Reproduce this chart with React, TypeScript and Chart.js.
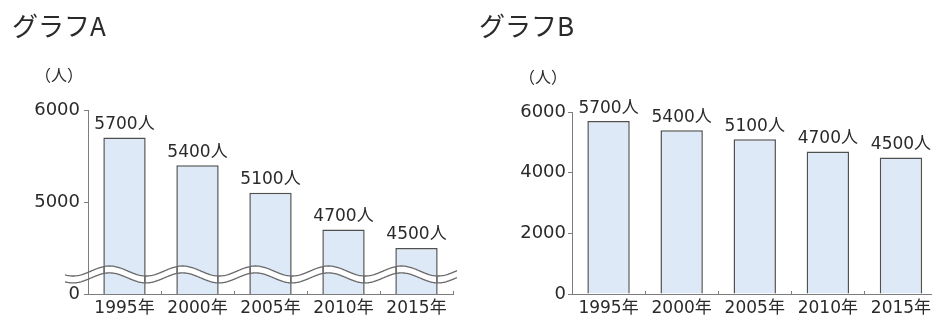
import React, { useEffect, useRef } from 'react';
import { Chart, registerables } from 'chart.js';

Chart.register(...registerables);

// ---- data ----
const categories = ['1995年', '2000年', '2005年', '2010年', '2015年'];
const populationA = [5700, 5400, 5100, 4700, 4500];
const populationB = [5700, 5400, 5100, 4700, 4500];
const unitSuffix = '人';
const titleA = 'グラフA';
const titleB = 'グラフB';
const unitLabel = '（人）';
// Graph A uses a broken axis: its 4000 bottom is labelled "0"
const tickValuesA = [4000, 5000, 6000];
const tickLabelsA = ['0', '5000', '6000'];
const axisMinA = 4000;
const axisMaxA = 6000;
const axisStepA = 1000;
const axisMinB = 0;
const axisMaxB = 6000;
const axisStepB = 2000;
const breakUpperValue = 4250;
const breakLowerValue = 4175;

// ---- styles ----
const FONT = "'DejaVu Sans', 'Noto Sans CJK JP', sans-serif";
const TITLE_FONT = "'Noto Sans CJK JP', 'DejaVu Sans', sans-serif";
const TEXT = '#2a2a2a';
const AXIS = '#7d7d7d';
const BAR_FILL = '#dde9f6';
const BAR_BORDER = '#505050';

Chart.defaults.font.family = FONT;

const labelPlugin = {
  id: 'valueLabels',
  afterDraw(chart: any) {
    const ctx = chart.ctx;
    const meta = chart.getDatasetMeta(0);
    const data = chart.data.datasets[0].data;
    ctx.save();
    ctx.fillStyle = TEXT;
    ctx.textAlign = 'center';
    ctx.textBaseline = 'middle';
    ctx.font = `17px ${FONT}`;
    meta.data.forEach((el: any, i: number) => {
      ctx.fillText(`${data[i]}${unitSuffix}`, el.x, el.y - 13);
    });
    const { left, top } = chart.chartArea;
    ctx.font = `16px ${TITLE_FONT}`;
    ctx.fillText(unitLabel, left - 29, top - 35);
    ctx.restore();
  },
};

const wavePlugin = {
  id: 'axisBreak',
  afterDatasetsDraw(chart: any) {
    const ctx = chart.ctx;
    const xs = chart.scales.x;
    const ys = chart.scales.y;
    const { left, right } = chart.chartArea;
    const period = xs.getPixelForValue(1) - xs.getPixelForValue(0);
    const crest0 = xs.getPixelForValue(0) - 15;
    const amp = 5;
    const upMid = ys.getPixelForValue(breakUpperValue);
    const loMid = ys.getPixelForValue(breakLowerValue);
    const x0 = left - 23;
    const x1 = right + 4;
    const f = (x: number, mid: number) => mid - amp * Math.cos((2 * Math.PI * (x - crest0)) / period);

    ctx.save();
    ctx.beginPath();
    for (let x = x0; x <= x1; x += 1) {
      const y = f(x, upMid);
      if (x === x0) ctx.moveTo(x, y);
      else ctx.lineTo(x, y);
    }
    for (let x = x1; x >= x0; x -= 1) ctx.lineTo(x, f(x, loMid));
    ctx.closePath();
    ctx.clip();
    ctx.fillStyle = '#ffffff';
    ctx.fillRect(x0, upMid - 20, x1 - x0, loMid - upMid + 40);
    // keep bar edges and axis visible through the band
    ctx.strokeStyle = BAR_BORDER;
    ctx.lineWidth = 1.5;
    const meta = chart.getDatasetMeta(0);
    meta.data.forEach((el: any) => {
      const w = el.width;
      [el.x - w / 2 + 0.75, el.x + w / 2 - 0.75].forEach((ex) => {
        ctx.beginPath();
        ctx.moveTo(ex, upMid - 20);
        ctx.lineTo(ex, loMid + 20);
        ctx.stroke();
      });
    });
    ctx.strokeStyle = AXIS;
    ctx.lineWidth = 1;
    ctx.beginPath();
    ctx.moveTo(left + 0.5, upMid - 20);
    ctx.lineTo(left + 0.5, loMid + 20);
    ctx.stroke();
    ctx.restore();

    ctx.save();
    ctx.strokeStyle = '#6a6a6a';
    ctx.lineWidth = 1.3;
    [upMid, loMid].forEach((mid) => {
      ctx.beginPath();
      for (let x = x0; x <= x1; x += 1) {
        const y = f(x, mid);
        if (x === x0) ctx.moveTo(x, y);
        else ctx.lineTo(x, y);
      }
      ctx.stroke();
    });
    ctx.restore();
  },
};

function makeConfig(opts: {
  title: string;
  values: number[];
  min: number;
  max: number;
  step: number;
  tickCallback: (v: any) => string;
  padLeft: number;
  padRight: number;
  titleBottom: number;
  yWidth: number;
  yPad: number;
  plugins: any[];
}): any {
  return {
    type: 'bar',
    data: {
      labels: categories,
      datasets: [
        {
          data: opts.values,
          backgroundColor: BAR_FILL,
          borderColor: BAR_BORDER,
          borderWidth: 1.5,
          barPercentage: 0.58,
          categoryPercentage: 1,
        },
      ],
    },
    plugins: opts.plugins,
    options: {
      animation: false,
      responsive: false,
      layout: { padding: { left: opts.padLeft, right: opts.padRight, top: 0, bottom: 0 } },
      plugins: {
        legend: { display: false },
        tooltip: { enabled: false },
        title: {
          display: true,
          text: opts.title,
          align: 'start',
          color: TEXT,
          font: { family: TITLE_FONT, size: 26, weight: 'normal', lineHeight: 1.2 },
          padding: { top: 11, bottom: opts.titleBottom },
        },
      },
      scales: {
        x: {
          grid: { display: true, drawOnChartArea: false, offset: true, tickLength: -3, color: AXIS },
          border: { display: true, color: AXIS, width: 1 },
          ticks: { color: TEXT, font: { size: 17 }, padding: 7, maxRotation: 0, autoSkip: false },
          afterFit: (s: any) => {
            s.height = 26;
          },
        },
        y: {
          min: opts.min,
          max: opts.max,
          grid: { display: true, drawOnChartArea: false, tickLength: 4, color: AXIS },
          border: { display: true, color: AXIS, width: 1 },
          ticks: {
            stepSize: opts.step,
            color: TEXT,
            font: { size: 18 },
            padding: opts.yPad,
            callback: opts.tickCallback,
          },
          afterFit: (s: any) => {
            s.width = opts.yWidth;
          },
        },
      },
    },
  };
}

export default function App() {
  const refA = useRef<HTMLCanvasElement>(null);
  const refB = useRef<HTMLCanvasElement>(null);

  useEffect(() => {
    const chartA = new Chart(
      refA.current as HTMLCanvasElement,
      makeConfig({
        title: titleA,
        values: populationA,
        min: axisMinA,
        max: axisMaxA,
        step: axisStepA,
        tickCallback: (v: any) => {
          const i = tickValuesA.indexOf(Number(v));
          return i >= 0 ? tickLabelsA[i] : '';
        },
        padLeft: 12,
        padRight: 13,
        titleBottom: 67.8,
        yWidth: 76,
        yPad: 4,
        plugins: [wavePlugin, labelPlugin],
      })
    );
    const chartB = new Chart(
      refB.current as HTMLCanvasElement,
      makeConfig({
        title: titleB,
        values: populationB,
        min: axisMinB,
        max: axisMaxB,
        step: axisStepB,
        tickCallback: (v: any) => String(v),
        padLeft: 13,
        padRight: 4.5,
        titleBottom: 69.8,
        yWidth: 93,
        yPad: 2,
        plugins: [labelPlugin],
      })
    );
    return () => {
      chartA.destroy();
      chartB.destroy();
    };
  }, []);

  return (
    <div
      style={{
        position: 'absolute',
        left: 0,
        top: 0,
        width: 932,
        height: 320,
        overflow: 'hidden',
        background: '#ffffff',
      }}
    >
      <canvas
        ref={refA}
        width={466}
        height={320}
        style={{ position: 'absolute', left: 0, top: 0, width: 466, height: 320 }}
      />
      <canvas
        ref={refB}
        width={476}
        height={320}
        style={{ position: 'absolute', left: 466, top: 0, width: 476, height: 320 }}
      />
    </div>
  );
}
